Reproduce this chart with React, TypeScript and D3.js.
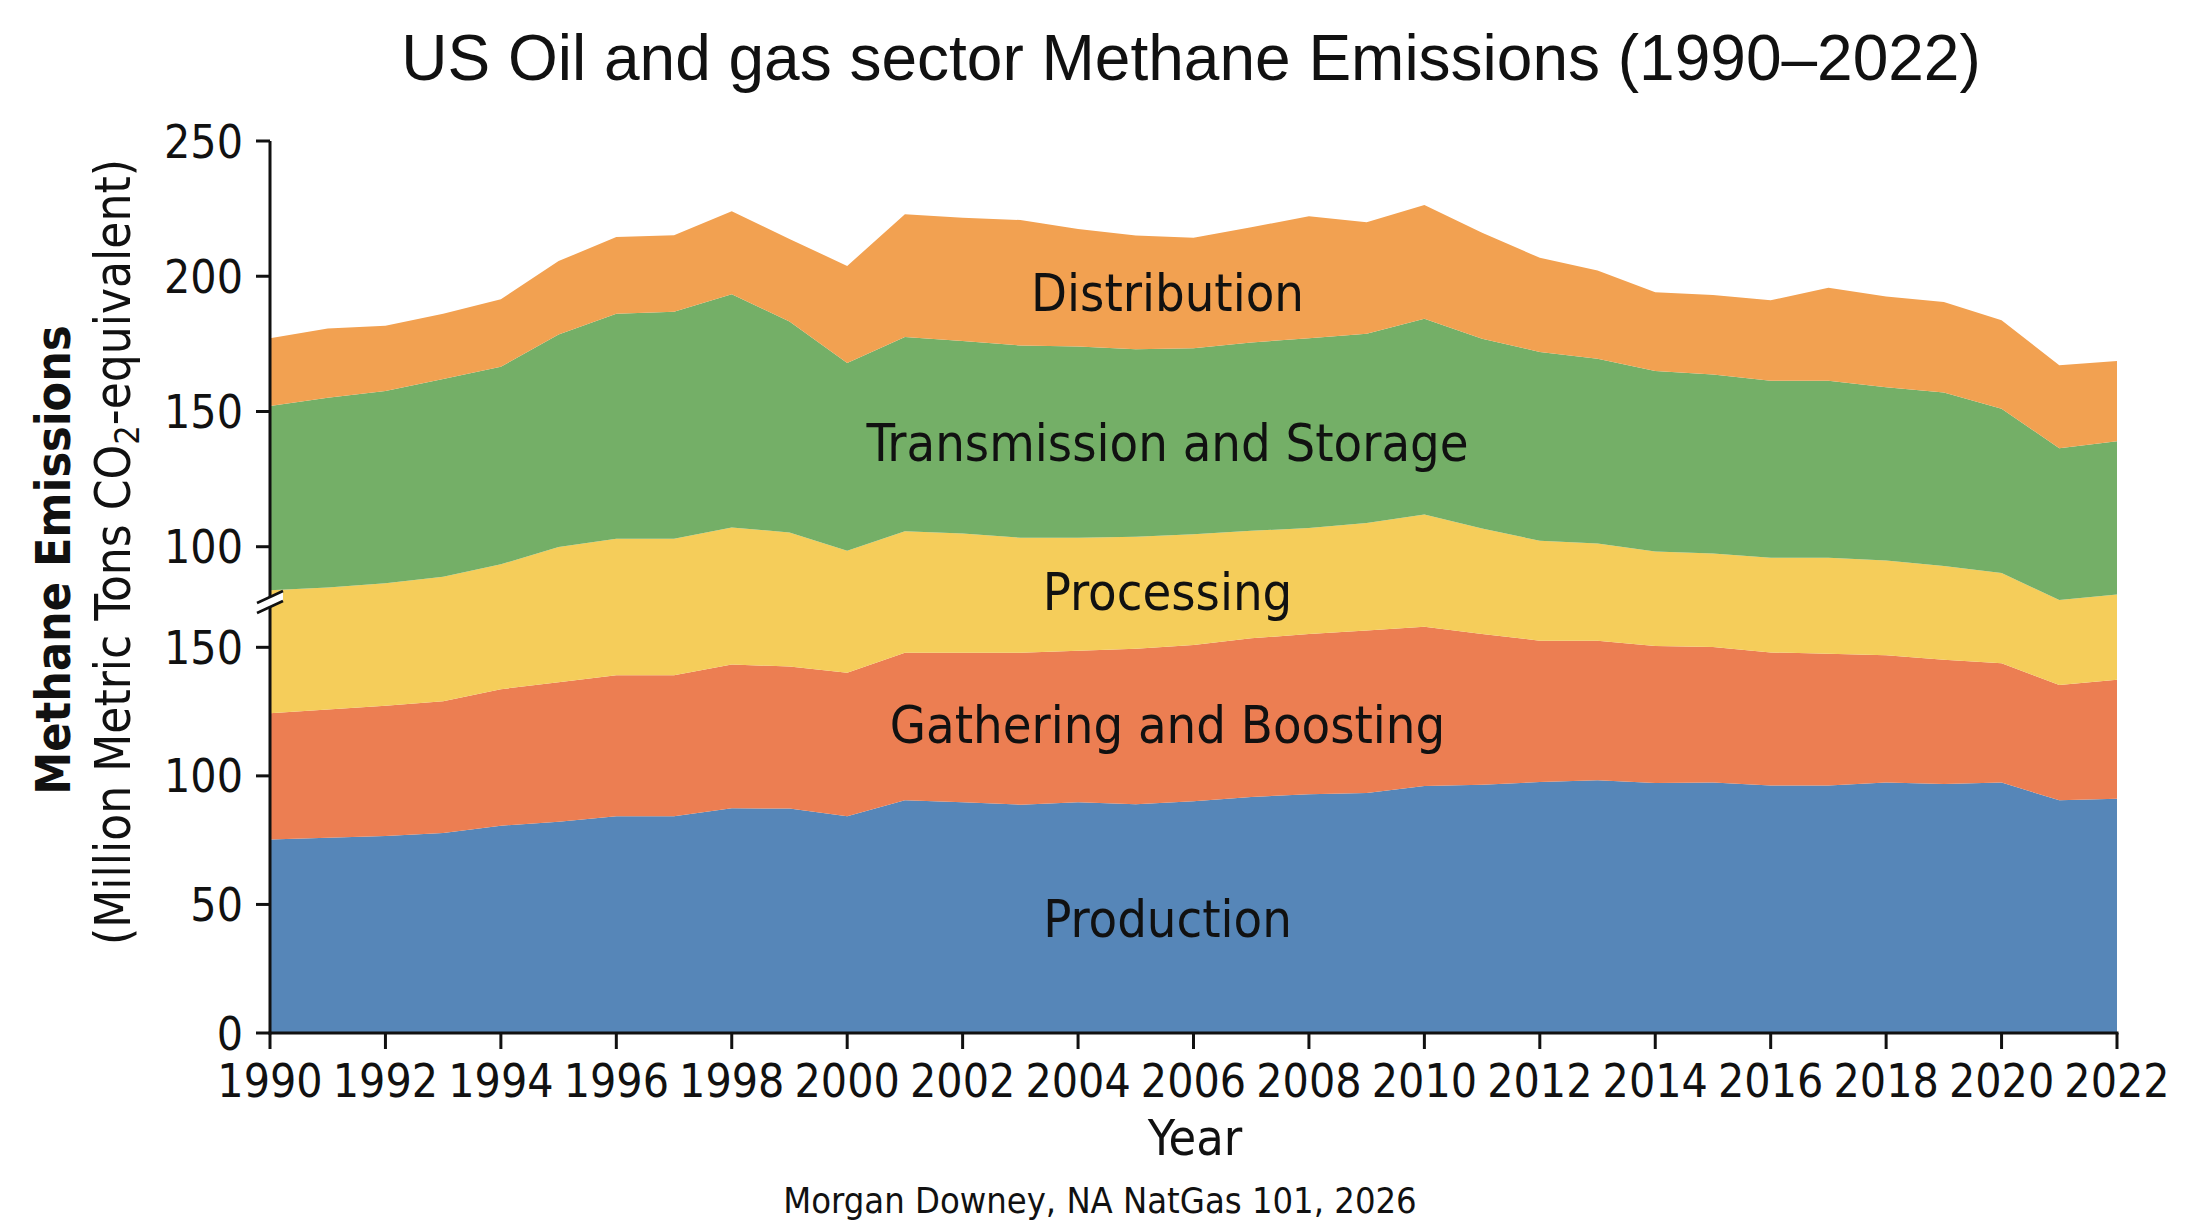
import React from 'react';
import * as d3 from 'd3';

// ---- data (million metric tons CO2e; stacked in chart units) ----
const years = [1990, 1991, 1992, 1993, 1994, 1995, 1996, 1997, 1998, 1999, 2000, 2001, 2002, 2003, 2004, 2005, 2006, 2007, 2008, 2009, 2010, 2011, 2012, 2013, 2014, 2015, 2016, 2017, 2018, 2019, 2020, 2021, 2022];
const production = [75.3, 75.9, 76.6, 77.8, 80.6, 82.2, 84.3, 84.3, 87.4, 87.3, 84.3, 90.5, 89.7, 88.8, 89.7, 89.0, 90.1, 91.8, 92.9, 93.3, 96.1, 96.5, 97.6, 98.3, 97.2, 97.4, 96.3, 96.3, 97.4, 96.8, 97.4, 90.5, 91.1];
const gathering = [49.1, 49.9, 50.7, 51.2, 53.1, 54.2, 54.8, 54.8, 55.9, 55.2, 55.8, 57.4, 58.2, 59.1, 59.0, 60.4, 60.8, 61.7, 62.3, 63.2, 61.9, 58.7, 55.0, 54.3, 53.3, 52.7, 51.7, 51.2, 49.5, 48.4, 46.4, 44.8, 46.3];
const processing = [47.6, 47.2, 47.3, 48.0, 47.9, 51.6, 51.9, 51.9, 51.9, 50.9, 46.5, 45.9, 45.1, 43.5, 42.7, 42.4, 41.8, 40.5, 39.8, 40.4, 42.0, 39.6, 37.7, 36.7, 35.8, 35.5, 36.0, 36.5, 36.1, 35.8, 34.6, 33.1, 33.0];
const transmission = [68.1, 70.2, 71.1, 73.1, 73.0, 78.6, 83.2, 84.0, 86.2, 78.0, 69.4, 71.8, 71.2, 71.1, 70.7, 69.3, 68.8, 69.6, 70.2, 69.9, 72.4, 70.2, 69.8, 68.3, 66.8, 66.2, 65.5, 65.5, 64.1, 64.1, 60.7, 56.1, 56.7];
const distribution = [25.1, 25.6, 24.1, 24.1, 25.0, 27.1, 28.4, 28.3, 30.7, 30.5, 35.9, 45.4, 45.5, 46.4, 43.5, 42.1, 40.8, 42.6, 45.1, 41.3, 42.0, 39.2, 34.8, 32.6, 29.1, 29.4, 29.7, 34.3, 33.5, 33.5, 32.7, 30.7, 29.7];

const seriesKeys = ['Production', 'Gathering and Boosting', 'Processing', 'Transmission and Storage', 'Distribution'];
const seriesColors = ['#5686b8', '#ec7e52', '#f5cd5a', '#74af67', '#f2a151'];

const xTicks = [1990, 1992, 1994, 1996, 1998, 2000, 2002, 2004, 2006, 2008, 2010, 2012, 2014, 2016, 2018, 2020, 2022];
const lowerTicks = [0, 50, 100, 150];
const upperTicks = [100, 150, 200, 250];

// axis break: lower-axis value at the break, and upper-axis label value at the break
const BREAK_LOW = 168.4;
const BREAK_HIGH = 80.3;
const UPPER_MAX = 250;
const OFFSET = BREAK_LOW - BREAK_HIGH;

const FONT = "'DejaVu Sans Condensed', 'DejaVu Sans', sans-serif";

export default function App() {
  const W = 2200;
  const H = 1229;
  const left = 270;
  const right = 2117;
  const top = 141;
  const bottom = 1033;
  const breakPx = 600;

  const x = d3.scaleLinear().domain([1990, 2022]).range([left, right]);
  const y = d3
    .scaleLinear()
    .domain([0, BREAK_LOW, UPPER_MAX + OFFSET])
    .range([bottom, breakPx, top]);

  const cols = [production, gathering, processing, transmission, distribution];
  const table = years.map((yr, i) => {
    const row: any = { year: yr };
    seriesKeys.forEach((k, j) => (row[k] = cols[j][i]));
    return row;
  });
  const stacked = d3.stack<any>().keys(seriesKeys)(table);
  const area = d3
    .area<any>()
    .x((d) => x(d.data.year))
    .y0((d) => y(d[0]))
    .y1((d) => y(d[1]))
    .curve(d3.curveLinear);

  // label position: middle of each band around 2005.5
  const labelYear = 2005.55;
  const i0 = years.indexOf(2005);
  const t = labelYear - 2005;
  const labels = stacked.map((s, j) => {
    const lo = s[i0][0] * (1 - t) + s[i0 + 1][0] * t;
    const hi = s[i0][1] * (1 - t) + s[i0 + 1][1] * t;
    return { key: seriesKeys[j], x: x(labelYear), y: (y(lo) + y(hi)) / 2 };
  });

  const bx = left;
  const by = breakPx + 2;

  return (
    <svg
      width={W}
      height={H}
      viewBox={`0 0 ${W} ${H}`}
      style={{ position: 'absolute', left: 0, top: 0, background: '#ffffff' }}
    >
      <rect x={0} y={0} width={W} height={H} fill="#ffffff" />

      <text
        x={1191}
        y={80}
        textAnchor="middle"
        fontFamily="'Liberation Sans', Arial, sans-serif"
        fontSize={64}
        fill="#111"
      >
        US Oil and gas sector Methane Emissions (1990–2022)
      </text>

      {stacked.map((s, j) => (
        <path key={seriesKeys[j]} d={area(s) || ''} fill={seriesColors[j]} />
      ))}

      {labels.map((l) => (
        <text
          key={l.key}
          x={l.x}
          y={l.y}
          dy="0.36em"
          textAnchor="middle"
          fontFamily={FONT}
          fontStretch="condensed"
          fontSize={52}
          fill="#111"
        >
          {l.key}
        </text>
      ))}

      {/* y axis */}
      <line x1={left} x2={left} y1={top} y2={bottom + 1.5} stroke="#111" strokeWidth={3} />
      {upperTicks.map((v) => (
        <g key={'u' + v} transform={`translate(0,${y(v + OFFSET)})`}>
          <line x1={left - 14} x2={left} stroke="#111" strokeWidth={3} />
          <text
            x={left - 27}
            dy="0.36em"
            textAnchor="end"
            fontFamily={FONT}
            fontStretch="condensed"
            fontSize={46}
            fill="#111"
          >
            {v}
          </text>
        </g>
      ))}
      {lowerTicks.map((v) => (
        <g key={'l' + v} transform={`translate(0,${y(v)})`}>
          <line x1={left - 14} x2={left} stroke="#111" strokeWidth={3} />
          <text
            x={left - 27}
            dy="0.36em"
            textAnchor="end"
            fontFamily={FONT}
            fontStretch="condensed"
            fontSize={46}
            fill="#111"
          >
            {v}
          </text>
        </g>
      ))}

      {/* axis break marker */}
      <polygon
        points={`${bx - 13},${by + 1} ${bx + 13},${by - 11} ${bx + 13},${by - 1} ${bx - 13},${by + 11}`}
        fill="#ffffff"
      />
      <line x1={bx - 13} y1={by + 1} x2={bx + 13} y2={by - 11} stroke="#111" strokeWidth={2.5} />
      <line x1={bx - 13} y1={by + 11} x2={bx + 13} y2={by - 1} stroke="#111" strokeWidth={2.5} />

      {/* x axis */}
      <line x1={left - 1.5} x2={right + 1.5} y1={bottom} y2={bottom} stroke="#111" strokeWidth={3} />
      {xTicks.map((v) => (
        <g key={'x' + v} transform={`translate(${x(v)},0)`}>
          <line y1={bottom} y2={bottom + 16} stroke="#111" strokeWidth={3} />
          <text
            y={1097}
            textAnchor="middle"
            fontFamily={FONT}
            fontStretch="condensed"
            fontSize={46}
            fill="#111"
          >
            {v}
          </text>
        </g>
      ))}

      <text
        x={1195}
        y={1155}
        textAnchor="middle"
        fontFamily={FONT}
        fontStretch="condensed"
        fontSize={50}
        fill="#111"
      >
        Year
      </text>

      <text
        transform="translate(70,560) rotate(-90)"
        textAnchor="middle"
        fontFamily={FONT}
        fontStretch="condensed"
        fontWeight="bold"
        fontSize={48}
        fill="#111"
      >
        Methane Emissions
      </text>
      <text
        transform="translate(130,552) rotate(-90)"
        textAnchor="middle"
        fontFamily={FONT}
        fontStretch="condensed"
        fontSize={49}
        fill="#111"
      >
        (Million Metric Tons CO
        <tspan fontSize={34} dy={9}>
          2
        </tspan>
        <tspan dy={-9}>-equivalent)</tspan>
      </text>

      <text
        x={1100}
        y={1213}
        textAnchor="middle"
        fontFamily={FONT}
        fontStretch="condensed"
        fontSize={36}
        fill="#111"
      >
        Morgan Downey, NA NatGas 101, 2026
      </text>
    </svg>
  );
}
